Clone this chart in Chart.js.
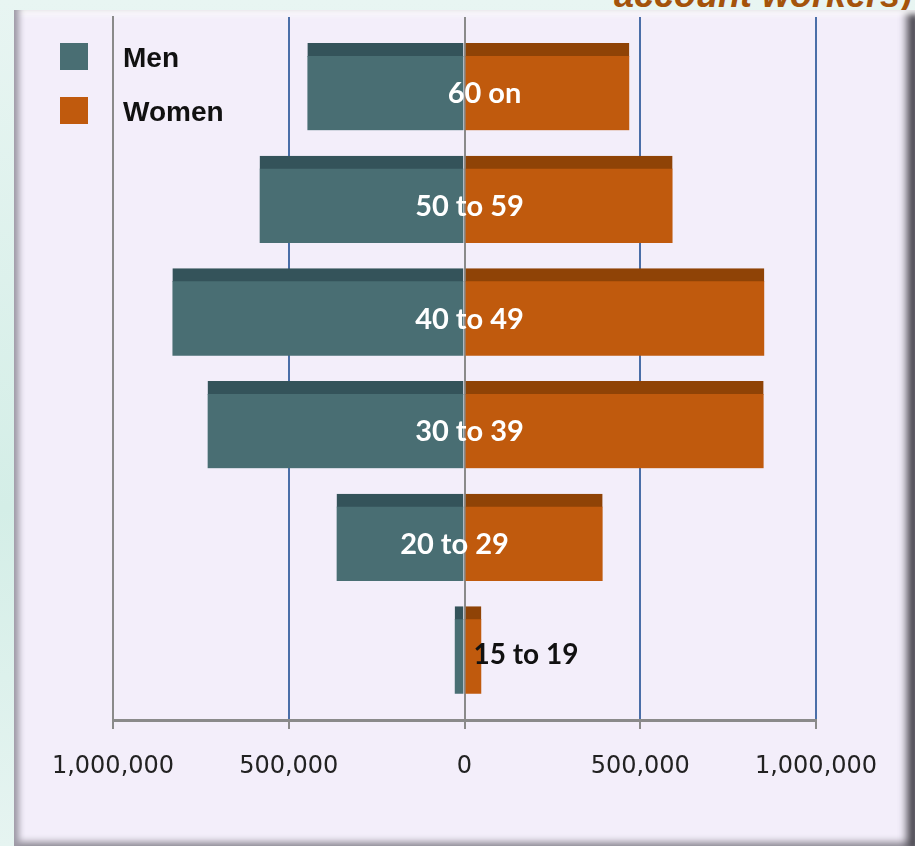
<!DOCTYPE html>
<html>
<head>
<meta charset="utf-8">
<script src="https://cdn.jsdelivr.net/npm/chart.js@4.4.1/dist/chart.umd.min.js"></script>
<style>
  html, body { margin: 0; padding: 0; }
  body {
    width: 915px; height: 846px; overflow: hidden; position: relative;
    background: linear-gradient(180deg, #e8f5f2 0%, #d4eee7 60%, #e6f4f1 100%);
    font-family: Arial, "Liberation Sans", sans-serif;
  }
  #title {
    position: absolute; right: 3px; top: -26px;
    font: italic bold 36px Arial, "Liberation Sans", sans-serif;
    color: #a4530b; white-space: nowrap;
  }
  #panel {
    position: absolute; left: 14px; top: 10px; width: 901px; height: 836px;
    background: #f3eefa;
    box-shadow: inset 8px 0 6px -3px #9e9aa6, inset 0 8px 6px -4px #ffffff,
                inset -12px 0 8px -4px #4a4850, inset 0 -8px 6px -3px #a8a4ae;
  }
  #wrap { position: absolute; left: 0; top: 0; width: 915px; height: 846px; }
  .leg { position: absolute; left: 60px; font: bold 28px Arial, "Liberation Sans", sans-serif; color: #111; }
  .leg span { position: absolute; left: 0; top: 0; width: 28px; height: 27px; }
  .leg b { position: absolute; left: 63px; top: 1px; white-space: nowrap; line-height: 27px; }
</style>
</head>
<body>
<div id="title">account workers)</div>
<div id="panel"></div>
<div id="wrap"><canvas id="pyramid" width="915" height="846"></canvas></div>
<div class="leg" style="top:43px"><span style="background:#496e73"></span><b>Men</b></div>
<div class="leg" style="top:97px"><span style="background:#c05a0d"></span><b>Women</b></div>
<script>
"use strict";

// age groups, top to bottom
var ageGroups = ['60 on', '50 to 59', '40 to 49', '30 to 39', '20 to 29', '15 to 19'];
var menValues = [447000, 583000, 831000, 731000, 364000, 28000];
var womenValues = [469000, 592000, 853000, 851000, 393000, 48000];
var axisTicks = [-1000000, -500000, 0, 500000, 1000000];

var menColor = '#496e73', menTop = '#34535a';
var womenColor = '#c05a0d', womenTop = '#8f4306';

function ToPoints(values, sign) {
	var pts = [];
	for (var i = 0; i < values.length; i++) {
		pts.push({ x: sign * values[i], y: i });
	}
	return pts;
}

// age labels written over the bars
var labelShift = [20, 5, 5, 5, -10, 0];
var ageLabels = {
	id: 'ageLabels',
	afterDatasetsDraw: function (chart) {
		var ctx = chart.ctx;
		var xs = chart.scales.x, ys = chart.scales.y;
		var zero = xs.getPixelForValue(0);
		ctx.save();
		ctx.textBaseline = 'middle';
		for (var i = 0; i < ageGroups.length; i++) {
			var y = ys.getPixelForValue(i) + 7;
			if (i == ageGroups.length - 1) {
				ctx.font = 'bold 28px Lato, "Open Sans", sans-serif';
				ctx.fillStyle = '#111';
				ctx.textAlign = 'left';
				ctx.fillText(ageGroups[i], zero + 9, y - 2);
			} else {
				ctx.font = 'bold 29px Lato, "Open Sans", sans-serif';
				ctx.fillStyle = '#ffffff';
				ctx.textAlign = 'center';
				ctx.fillText(ageGroups[i], zero + labelShift[i], y);
			}
		}
		ctx.restore();
	}
};

function GridColor(ctx) {
	var v = ctx.tick ? ctx.tick.value : null;
	if (v === 0) return '#8a8a8a';
	return '#4a6ea8';
}

const context = document.getElementById('pyramid');
const myChart = new Chart(context, {
	type: 'bar',
	data: {
		datasets: [{
			label: 'Men',
			data: ToPoints(menValues, -1),
			backgroundColor: menColor,
			borderColor: menTop,
			borderWidth: { top: 13, left: 0, right: 0, bottom: 0 },
			borderSkipped: false
		}, {
			label: 'Women',
			data: ToPoints(womenValues, 1),
			backgroundColor: womenColor,
			borderColor: womenTop,
			borderWidth: { top: 13, left: 0, right: 0, bottom: 0 },
			borderSkipped: false
		}]
	},
	plugins: [ageLabels],
	options: {
		indexAxis: 'y',
		responsive: false,
		animation: false,
		barThickness: 87,
		layout: { padding: { left: 113, right: 99, top: 17, bottom: 56 } },
		plugins: {
			legend: { display: false },
			tooltip: { enabled: false }
		},
		scales: {
			x: {
				type: 'linear',
				stacked: true,
				min: -1000000,
				max: 1000000,
				afterBuildTicks: function (scale) {
					scale.ticks = axisTicks.map(function (v) { return { value: v }; });
				},
				afterFit: function (scale) { scale.height = 70; },
				ticks: {
					padding: 23,
					color: '#222',
					font: { family: '"DejaVu Sans", sans-serif', size: 24 },
					callback: function (v) { return Math.abs(v).toLocaleString('en-US'); }
				},
				grid: {
					color: GridColor,
					lineWidth: 2,
					tickColor: '#8a8a8a',
					tickLength: 9
				},
				border: { display: true, color: '#8a8a8a', width: 3 }
			},
			y: {
				type: 'linear',
				stacked: true,
				reverse: true,
				offset: false,
				min: -0.62,
				max: 5.62,
				afterFit: function (scale) { scale.width = 0; },
				ticks: { display: false },
				grid: { display: false, offset: false },
				border: { display: true, color: '#8a8a8a', width: 2 }
			}
		}
	}
});
</script>
</body>
</html>
